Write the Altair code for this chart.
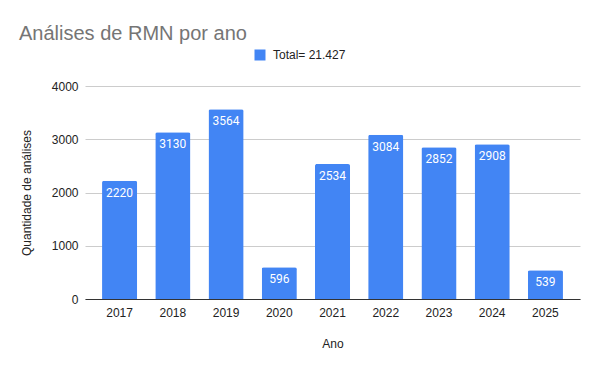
import altair as alt
import pandas as pd

anos = ["2017", "2018", "2019", "2020", "2021", "2022", "2023", "2024", "2025"]
valores = [2220, 3130, 3564, 596, 2534, 3084, 2852, 2908, 539]
serie = "Total= 21.427"

df = pd.DataFrame({"Ano": anos, "Qtd": valores, "serie": [serie] * len(anos)})

FONT = "Liberation Sans"
LFONT = "Roboto"

base = alt.Chart(df).encode(
    x=alt.X("Ano:N", title="Ano",
            scale=alt.Scale(paddingInner=0.34, paddingOuter=0.32),
            axis=alt.Axis(labelAngle=0, labelFontSize=12, labelColor="#222222",
                          labelFont=FONT, titleFont=FONT, titleFontSize=12,
                          titleFontWeight="normal", titleColor="#222222",
                          ticks=False, labelPadding=8, titlePadding=20,
                          domainColor="#333333", domainWidth=1)),
)

bars = base.mark_bar(color="#4285F4", cornerRadiusTopLeft=2, cornerRadiusTopRight=2).encode(
    y=alt.Y("Qtd:Q", title="Quantidade de análises",
            scale=alt.Scale(domain=[0, 4000]),
            axis=alt.Axis(values=[0, 1000, 2000, 3000, 4000], format="d",
                          labelFontSize=12,
                          labelColor="#222222", labelFont=FONT, titleFont=FONT,
                          titleFontSize=12, titleFontWeight="normal",
                          titleColor="#222222", ticks=False, domain=False,
                          labelPadding=7, titlePadding=18, gridColor="#cccccc")),
    color=alt.Color("serie:N", scale=alt.Scale(range=["#4285F4"]),
                    legend=alt.Legend(title=None, orient="none", legendX=169, legendY=-37,
                                      symbolType="square", symbolSize=121,
                                      symbolStrokeWidth=0, labelFontSize=12,
                                      labelOffset=7,
                                      labelFont=FONT, labelColor="#222222",
                                      symbolOpacity=1)),
)

labels = base.mark_text(color="white", baseline="middle", dy=12, fontSize=12, font=LFONT).encode(
    y="Qtd:Q",
    text="Qtd:Q",
)

chart = (bars + labels).properties(
    width=495,
    height=213,
    title=alt.TitleParams("Análises de RMN por ano", anchor="start", frame="group",
                          dx=-66, fontSize=20, font=FONT, fontWeight="normal",
                          color="#757575", offset=5),
    autosize=alt.AutoSizeParams(type="none"),
    padding={"left": 77, "top": 78, "right": 12, "bottom": 64},
).configure_view(stroke=None)

chart.save("out.html", embed_options={"renderer": "svg", "actions": False})
